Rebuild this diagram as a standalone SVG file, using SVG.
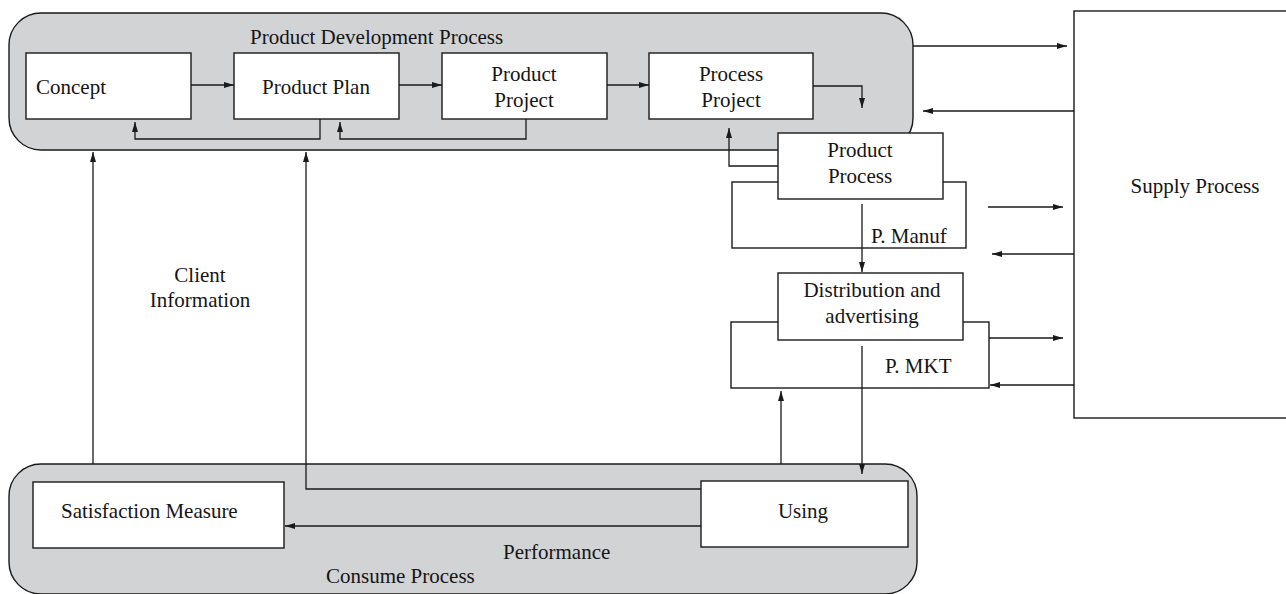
<svg xmlns="http://www.w3.org/2000/svg" width="1286" height="594" viewBox="0 0 1286 594">
<style>
.cont{fill:#d2d3d5;stroke:#1a1a1a;stroke-width:1.4}
.box{fill:#fff;stroke:#1a1a1a;stroke-width:1.4}
.outer{fill:none;stroke:#1a1a1a;stroke-width:1.4}
.c{fill:none;stroke:#1a1a1a;stroke-width:1.3;marker-end:url(#ah)}
.n{fill:none;stroke:#1a1a1a;stroke-width:1.3}
text{font-family:"Liberation Serif","Times New Roman",serif;font-size:21px;fill:#151515}
.m{text-anchor:middle}
</style>
<defs>
<marker id="ah" viewBox="0 0 10 6" refX="10" refY="3" markerWidth="10" markerHeight="6" markerUnits="userSpaceOnUse" orient="auto">
<path d="M0,0 L10,3 L0,6 z" fill="#1a1a1a"/>
</marker>
</defs>
<rect width="1286" height="594" fill="#fff"/>
<g id="product-development-process">
<rect class="cont" x="9" y="13" width="904" height="137" rx="32" ry="32"/>
<text x="250" y="44">Product Development Process</text>
</g>
<g id="consume-process">
<rect class="cont" x="9" y="464" width="908" height="130" rx="32" ry="32"/>
<text x="326" y="583">Consume Process</text>
<text x="503" y="559">Performance</text>
</g>
<g id="concept"><rect class="box" x="26" y="53" width="165" height="66"/><text x="36" y="94">Concept</text></g>
<g id="product-plan"><rect class="box" x="234" y="53" width="165" height="66"/><text class="m" x="316" y="94">Product Plan</text></g>
<g id="product-project"><rect class="box" x="442" y="53" width="165" height="66"/><text class="m" x="524" y="81">Product</text><text class="m" x="524" y="107">Project</text></g>
<g id="process-project"><rect class="box" x="649" y="53" width="164" height="66"/><text class="m" x="731" y="81">Process</text><text class="m" x="731" y="107">Project</text></g>
<g id="p-manuf">
<rect class="outer" x="732" y="182" width="234" height="66"/>
<text x="871" y="243">P. Manuf</text>
</g>
<g id="product-process"><rect class="box" x="778" y="133" width="165" height="66"/><text class="m" x="860" y="157">Product</text><text class="m" x="860" y="183">Process</text></g>
<g id="p-mkt">
<rect class="outer" x="731" y="322" width="258" height="66"/>
<text x="885" y="373">P. MKT</text>
</g>
<g id="distribution"><rect class="box" x="778" y="273" width="185" height="67"/><text class="m" x="872" y="297">Distribution and</text><text class="m" x="872" y="323">advertising</text></g>
<g id="supply-process"><rect class="box" x="1074" y="11" width="220" height="407"/><text class="m" x="1195" y="193">Supply Process</text></g>
<g id="satisfaction-measure"><rect class="box" x="33" y="482" width="251" height="66"/><text x="61" y="518">Satisfaction Measure</text></g>
<g id="using"><rect class="box" x="701" y="481" width="207" height="66"/><text class="m" x="803" y="518">Using</text></g>
<g id="client-information-label"><text class="m" x="200" y="282">Client</text><text class="m" x="200" y="307">Information</text></g>
<g id="connectors">
<path class="c" d="M191,85 H234"/>
<path class="c" d="M399,85 H442"/>
<path class="c" d="M607,85 H649"/>
<path class="c" d="M813,86 H862 V108"/>
<path class="c" d="M320,119 V139 H135 V122"/>
<path class="c" d="M526,119 V139 H340 V122"/>
<path class="c" d="M778,166 H729 V128"/>
<path class="c" d="M862,204 V272"/>
<path class="c" d="M862,346 V474"/>
<path class="c" d="M781,464 V391"/>
<path class="c" d="M701,489 H306 V152"/>
<path class="c" d="M93,464 V152"/>
<path class="c" d="M701,526 H285"/>
<path class="c" d="M913,46 H1067"/>
<path class="c" d="M1074,111 H923"/>
<path class="c" d="M988,207 H1063"/>
<path class="c" d="M1074,254 H992"/>
<path class="c" d="M989,338 H1063"/>
<path class="c" d="M1074,385 H990"/>
</g>
</svg>
